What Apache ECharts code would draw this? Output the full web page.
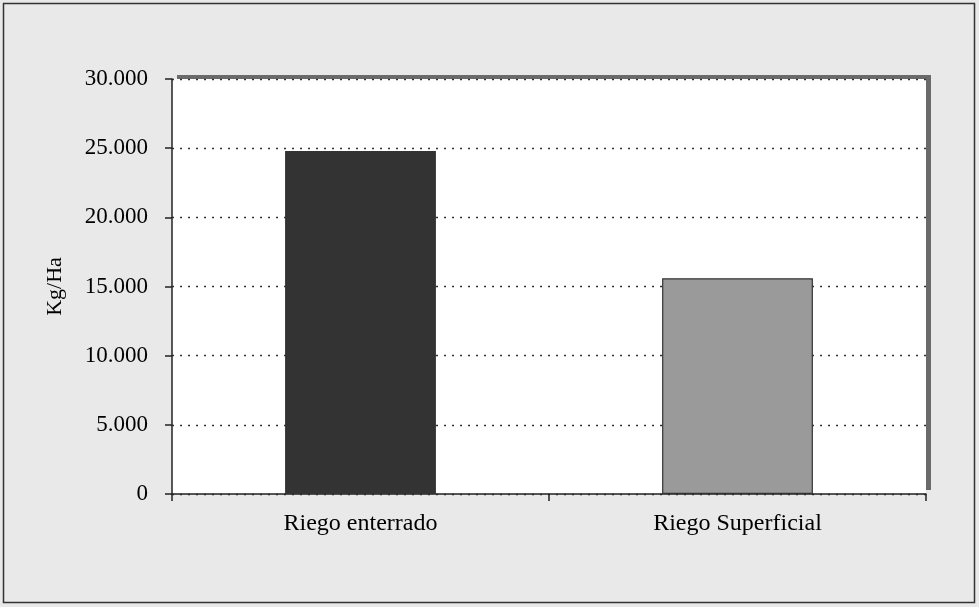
<!DOCTYPE html>
<html>
<head>
<meta charset="utf-8">
<script src="https://cdn.jsdelivr.net/npm/echarts@6/dist/echarts.min.js"></script>
<style>
html,body{margin:0;padding:0;background:#e9e9e9;}
#c{width:979px;height:607px;}
</style>
</head>
<body>
<div id="c"></div>
<script>
var categories = ['Riego enterrado', 'Riego Superficial'];
var values = [24800, 15600];
var barColors = ['#333333', '#9a9a9a'];
var yTicks = { min: 0, max: 30000, interval: 5000 };

var chart = echarts.init(document.getElementById('c'), null, {renderer: 'canvas'});
var font = 'Liberation Serif';
chart.setOption({
  backgroundColor: '#e9e9e9',
  animation: false,
  graphic: [{
    type: 'rect', silent: true, z: -10,
    shape: {x: 3.5, y: 3.5, width: 971, height: 599},
    style: {fill: 'none', stroke: '#333', lineWidth: 1.5}
  }],
  grid: {
    left: 172, right: 53, top: 79, bottom: 113,
    show: true, backgroundColor: '#ffffff', borderWidth: 0,
    shadowColor: '#6a6a6a', shadowOffsetX: 5, shadowOffsetY: -4, shadowBlur: 0
  },
  xAxis: {
    type: 'category', data: categories,
    axisLine: {lineStyle: {color: '#222', width: 1.5}},
    axisTick: {show: true, length: 7, lineStyle: {color: '#222', width: 1.5}},
    axisLabel: {fontFamily: font, fontSize: 24, color: '#000', margin: 18}
  },
  yAxis: {
    type: 'value', min: yTicks.min, max: yTicks.max, interval: yTicks.interval,
    name: 'Kg/Ha', nameLocation: 'middle', nameGap: 106, nameRotate: 90,
    nameTextStyle: {fontFamily: font, fontSize: 22, color: '#000'},
    axisLine: {show: true, lineStyle: {color: '#222', width: 1.5}},
    axisTick: {show: true, length: 7, lineStyle: {color: '#222', width: 1.5}},
    axisLabel: {
      fontFamily: font, fontSize: 23, color: '#000', margin: 24,
      formatter: function (v) { return v === 0 ? '0' : (v / 1000).toFixed(3); }
    },
    splitLine: {show: true, lineStyle: {color: '#333', type: [2, 6], width: 1.4}}
  },
  series: [{
    type: 'bar', barWidth: '40%',
    data: values.map(function (v, i) {
      return {value: v, itemStyle: {color: barColors[i], borderColor: '#333', borderWidth: 1.2}};
    })
  }]
});
</script>
</body>
</html>
